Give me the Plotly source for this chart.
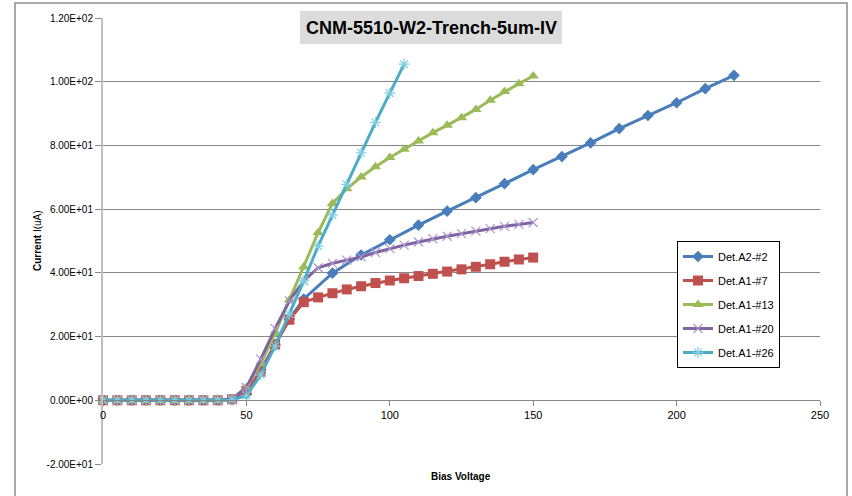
import plotly.graph_objects as go

# ---------------- data ----------------
v_a2_2 = [0, 5, 10, 15, 20, 25, 30, 35, 40, 45, 50, 55, 60, 65, 70,
          80, 90, 100, 110, 120, 130, 140, 150, 160, 170, 180, 190, 200, 210, 220]
i_a2_2 = [0, 0, 0, 0, 0, 0, 0, 0, 0, 0.2, 2.0, 9.5, 17.5, 25.5, 31.8,
          39.9, 45.6, 50.4, 55.0, 59.4, 63.6, 68.0, 72.4, 76.5, 80.8, 85.3, 89.4, 93.4, 97.8, 102.0]

v_a1_7 = list(range(0, 155, 5))
i_a1_7 = [0, 0, 0, 0, 0, 0, 0, 0, 0, 0.3, 3.0, 9.0, 17.5, 25.3, 30.8,
          32.3, 33.6, 34.8, 35.8, 36.8, 37.6, 38.3, 39.0, 39.7, 40.4, 41.1,
          41.9, 42.7, 43.5, 44.2, 44.8]

v_a1_13 = list(range(0, 155, 5))
i_a1_13 = [0, 0, 0, 0, 0, 0, 0, 0, 0, 0.4, 4.0, 11.5, 21.0, 31.5, 41.8,
           52.6, 61.8, 66.4, 70.1, 73.3, 76.2, 78.8, 81.4, 84.0, 86.3, 88.7,
           91.3, 94.2, 96.9, 99.4, 101.8]

v_a1_20 = list(range(0, 155, 5))
i_a1_20 = [0, 0, 0, 0, 0, 0, 0, 0, 0, 0.4, 4.0, 12.9, 22.5, 31.2, 37.5,
           41.6, 43.0, 44.0, 45.0, 46.4, 47.6, 48.7, 49.7, 50.7, 51.5, 52.3,
           53.1, 53.9, 54.6, 55.2, 55.8]

v_a1_26 = list(range(0, 110, 5))
i_a1_26 = [0, 0, 0, 0, 0, 0, 0, 0, 0, 0.1, 1.5, 8.0, 17.0, 27.0, 37.5,
           48.4, 58.2, 67.8, 77.7, 87.2, 96.4, 105.5]

series_names = ["Det.A2-#2", "Det.A1-#7", "Det.A1-#13", "Det.A1-#20", "Det.A1-#26"]
series_v = [v_a2_2, v_a1_7, v_a1_13, v_a1_20, v_a1_26]
series_i = [i_a2_2, i_a1_7, i_a1_13, i_a1_20, i_a1_26]

y_tickvals = [-20, 0, 20, 40, 60, 80, 100, 120]
y_ticktext = ["-2.00E+01", "0.00E+00", "2.00E+01", "4.00E+01", "6.00E+01",
              "8.00E+01", "1.00E+02", "1.20E+02"]
x_tickvals = [0, 50, 100, 150, 200, 250]
x_ticktext = ["0", "50", "100", "150", "200", "250"]

title_text = "CNM-5510-W2-Trench-5um-IV"
x_title = "Bias Voltage"
y_title = "<b>Current</b> I(uA)"

# ---------------- styles ----------------
colors = ["#4A7EBB", "#C0504D", "#9BBB59", "#8064A2", "#4BACC6"]
marker_colors = ["#4A7EBB", "#C0504D", "#9BBB59", "#A898CC", "#7FCDE0"]
symbols = ["diamond", "square", "triangle-up", "x-thin-open", "asterisk-open"]
msizes = [9, 10, 10, 9, 9]

FONT = "Liberation Sans"
grid = "#868686"

fig = go.Figure()
for k in range(5):
    mk = dict(symbol=symbols[k], size=msizes[k], color=marker_colors[k])
    if symbols[k].endswith("open"):
        mk["line"] = dict(color=marker_colors[k], width=1.2)
    else:
        mk["line"] = dict(width=0)
    fig.add_trace(go.Scatter(
        x=series_v[k], y=series_i[k], mode="lines+markers", name=series_names[k],
        line=dict(color=colors[k], width=3), marker=mk,
        legendgroup="g%d" % k, cliponaxis=False,
    ))

W, H = 852, 496
L, R, T, B = 103, 820, 18, 464


def px2x(px):
    return (px - L) / (R - L)


def px2y(py):
    return 1 - (py - T) / (B - T)


fig.update_layout(
    width=W, height=H,
    margin=dict(l=L, r=W - R, t=T, b=H - B, pad=0),
    paper_bgcolor="white", plot_bgcolor="white",
    font=dict(family=FONT, size=10, color="#000000"),
    showlegend=True,
    legend=dict(x=px2x(677), y=px2y(241), xanchor="left", yanchor="top",
                bgcolor="white", bordercolor="#000000", borderwidth=1,
                font=dict(family=FONT, size=11), tracegroupgap=5,
                itemwidth=30),
    xaxis=dict(range=[0, 250], tickvals=x_tickvals, ticktext=x_ticktext,
               showgrid=False, zeroline=False, showline=True, linecolor=grid,
               linewidth=1, ticks="outside", ticklen=5, tickcolor=grid,
               anchor="free", position=20 / 140,
               tickfont=dict(family=FONT, size=11)),
    yaxis=dict(range=[-20, 120], tickvals=y_tickvals, ticktext=y_ticktext,
               showgrid=True, gridcolor=grid, gridwidth=1, zeroline=False,
               showline=True, linecolor="#BFBFBF", linewidth=2,
               ticks="outside", ticklen=6, tickcolor=grid,
               tickfont=dict(family=FONT, size=10)),
)

shapes = [
    # outer chart border
    dict(type="rect", xref="paper", yref="paper",
         x0=px2x(15), x1=px2x(847), y0=px2y(520), y1=px2y(3),
         line=dict(color="#8C8C8C", width=1.5), fillcolor="rgba(0,0,0,0)", layer="below"),
    # title box
    dict(type="rect", xref="paper", yref="paper",
         x0=px2x(300), x1=px2x(562), y0=px2y(44), y1=px2y(11),
         line=dict(width=0), fillcolor="#DCDCDC", layer="above"),
]
fig.update_layout(shapes=shapes)

fig.add_annotation(text="<b>" + title_text + "</b>", xref="paper", yref="paper",
                   x=px2x(431), y=px2y(28), xanchor="center", yanchor="middle",
                   showarrow=False,
                   font=dict(family=FONT, size=18, color="#000000"))
fig.add_annotation(text="<b>" + x_title + "</b>", xref="paper", yref="paper",
                   x=px2x(461), y=px2y(476), xanchor="center", yanchor="middle",
                   showarrow=False, font=dict(family=FONT, size=10))
fig.add_annotation(text=y_title, xref="paper", yref="paper",
                   x=px2x(37), y=px2y(241), xanchor="center", yanchor="middle",
                   textangle=-90, showarrow=False, font=dict(family=FONT, size=10))

fig.write_html("out.html")
